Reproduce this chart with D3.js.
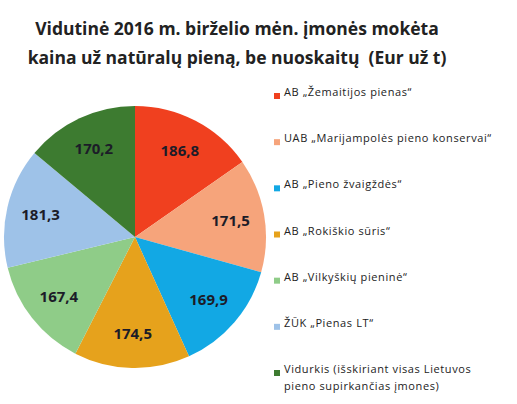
<!DOCTYPE html>
<html lang="lt">
<head>
<meta charset="UTF-8">
<script src="https://d3js.org/d3.v7.min.js"></script>
<style>
  body { margin: 0; background: #fff; }
  text { font-family: "Open Sans", "Liberation Sans", sans-serif; }
  .title { white-space: pre; }
</style>
</head>
<body>
<script>
// duomenys
const titleLines = ["Vidutinė 2016 m. birželio mėn. įmonės mokėta",
                    "kaina už natūralų pieną, be nuoskaitų  (Eur už t)"];
const companies = [
  "AB „Žemaitijos pienas\u201C",
  "UAB „Marijampolės pieno konservai\u201C",
  "AB „Pieno žvaigždės\u201C",
  "AB „Rokiškio sūris\u201C",
  "AB „Vilkyškių pieninė\u201C",
  "ŽŪK \u201EPienas LT\u201C",
  "Vidurkis (išskiriant visas Lietuvos|pieno supirkančias įmones)"
];
const prices = [186.8, 171.5, 169.9, 174.5, 167.4, 181.3, 170.2];
const colors = ["#f0401f", "#f6a47b", "#12a8e4", "#e6a21c", "#8fcc88", "#9ec2e8", "#3d7b30"];

const w = 517, h = 404;
const svg = d3.select("body").append("svg").attr("width", w).attr("height", h);

// titulas
svg.append("g").selectAll("text")
  .data(titleLines).enter().append("text")
  .attr("class", "title")
  .attr("x", 237).attr("y", (d, i) => 35 + i * 29)
  .attr("text-anchor", "middle")
  .attr("font-size", "17.5px").attr("font-weight", "bold")
  .attr("fill", "#222")
  .text(d => d);

const cx = 135, cy = 237, r = 131;
const pie = d3.pie().sort(null).value(d => d);
const arcs = pie(prices);
const arc = d3.arc().innerRadius(0).outerRadius(r);
const labelArc = d3.arc().innerRadius(r * 0.74).outerRadius(r * 0.74);

const g = svg.append("g").attr("transform", `translate(${cx},${cy})`);
g.selectAll("path").data(arcs).enter().append("path")
  .attr("d", arc)
  .attr("fill", (d, i) => colors[i]);

g.selectAll("text").data(arcs).enter().append("text")
  .attr("transform", d => `translate(${labelArc.centroid(d)})`)
  .attr("text-anchor", "middle").attr("dy", "0.35em")
  .attr("font-size", "15px").attr("font-weight", "bold")
  .attr("fill", "#1c1c28")
  .text(d => d.data.toFixed(1).replace(".", ","));

// legenda
const ly = d3.scalePoint().domain(d3.range(companies.length)).range([96, 373]);
const leg = svg.append("g").selectAll("g")
  .data(companies).enter().append("g")
  .attr("transform", (d, i) => `translate(274,${ly(i)})`);
leg.append("rect").attr("x", 0).attr("y", -3).attr("width", 6).attr("height", 6)
  .attr("fill", (d, i) => colors[i]);
leg.append("text")
  .attr("x", 10).attr("y", 0).attr("dy", "0.35em")
  .attr("font-size", "11px").attr("letter-spacing", "0.6px").attr("fill", "#222")
  .selectAll("tspan").data(d => d.split("|")).enter().append("tspan")
  .attr("x", 10).attr("dy", (d, i) => i ? 17 : 0)
  .text(d => d);
</script>
</body>
</html>
